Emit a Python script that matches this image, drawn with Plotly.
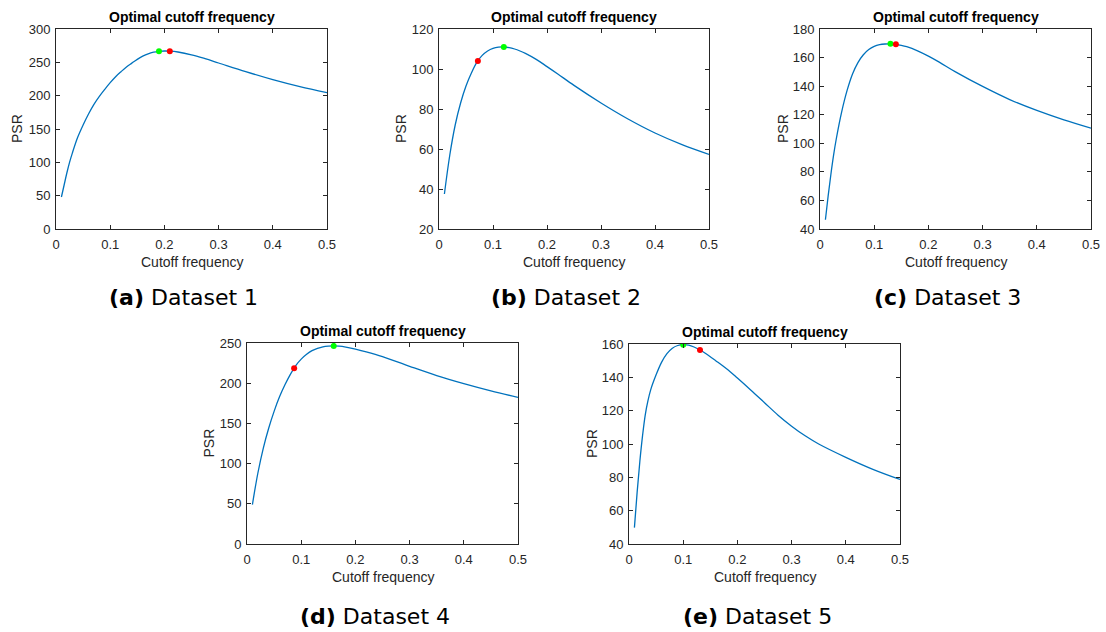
import plotly.graph_objects as go

# ---- PSR versus cutoff frequency, one curve per dataset ----
freq_1 = [0.01, 0.015, 0.02, 0.025, 0.03, 0.04, 0.05, 0.06, 0.07, 0.08, 0.09, 0.1, 0.11, 0.12,
          0.13, 0.14, 0.15, 0.16, 0.17, 0.18, 0.19, 0.2, 0.21, 0.225, 0.25, 0.275, 0.3, 0.35,
          0.4, 0.45, 0.5]
psr_1 = [48, 66, 84, 100, 113.5, 137.5, 156, 172.5, 187, 199, 209.5, 219.5, 228.5, 236,
         243, 248.8, 254.5, 259.2, 262.8, 265.2, 266.5, 267, 266.8, 265.5, 261.3, 255.5, 249,
         236, 224, 213.5, 204.5]

freq_2 = [0.01, 0.02, 0.03, 0.04, 0.05, 0.06, 0.07, 0.08, 0.09, 0.1, 0.11, 0.12, 0.13, 0.14,
          0.15, 0.16, 0.18, 0.2, 0.22, 0.25, 0.3, 0.35, 0.4, 0.45, 0.5]
psr_2 = [37.5, 57, 72, 83, 91.5, 98, 103.3, 106.8, 109, 110.3, 110.9, 111, 110.7, 110,
         109, 107.8, 104.8, 101.2, 97.5, 91.8, 83, 75, 68, 62.2, 57.3]

freq_3 = [0.01, 0.015, 0.02, 0.025, 0.03, 0.04, 0.05, 0.06, 0.07, 0.08, 0.09, 0.1, 0.11,
          0.12, 0.13, 0.14, 0.15, 0.16, 0.18, 0.2, 0.22, 0.25, 0.3, 0.35, 0.4, 0.45, 0.5]
psr_3 = [46.5, 63, 78, 91.5, 103, 122, 137, 148.5, 156.5, 162, 165.6, 167.8, 169,
         169.5, 169.6, 169.3, 168.6, 167.6, 164.7, 161, 156.8, 150, 139.8, 130.6, 123,
         116.4, 110.6]

freq_4 = [0.01, 0.02, 0.03, 0.04, 0.05, 0.06, 0.07, 0.08, 0.09, 0.1, 0.11, 0.12, 0.13, 0.14,
          0.15, 0.16, 0.17, 0.18, 0.2, 0.22, 0.25, 0.3, 0.35, 0.4, 0.45, 0.5]
psr_4 = [49, 88, 119, 144, 165, 183, 198, 211, 222, 230, 236, 240.5, 243.3, 245.2,
         246.1, 246.4, 246, 245.2, 242.5, 239, 233, 221, 209.5, 199.5, 190.5, 182.4]

freq_5 = [0.01, 0.015, 0.02, 0.025, 0.03, 0.035, 0.04, 0.05, 0.06, 0.07, 0.08, 0.09, 0.1,
          0.11, 0.12, 0.131, 0.14, 0.16, 0.18, 0.2, 0.225, 0.25, 0.275, 0.3, 0.325, 0.35,
          0.4, 0.45, 0.5]
psr_5 = [49.8, 71, 89.5, 105, 117.5, 126, 132.5, 141.5, 149, 154.2, 157.5, 159.1, 159.6,
         159.3, 158.2, 156.4, 154.6, 150, 145.2, 139.6, 132.3, 124.8, 117.3, 110.7, 104.9,
         100.0, 92, 84.8, 78.7]

# Highlighted cutoffs: green = optimum, red = selected
green_f = [0.19, 0.12, 0.13, 0.16, 0.1]
green_psr = [266.5, 111.0, 169.6, 246.4, 159.6]
red_f = [0.21, 0.072, 0.14, 0.087, 0.131]
red_psr = [266.8, 104.0, 169.3, 218.7, 156.4]

y_ranges = [[0, 300], [20, 120], [40, 180], [0, 250], [40, 160]]
y_dticks = [50, 20, 20, 50, 20]
captions = ["<b>(a)</b> Dataset 1", "<b>(b)</b> Dataset 2", "<b>(c)</b> Dataset 3",
            "<b>(d)</b> Dataset 4", "<b>(e)</b> Dataset 5"]

freqs = [freq_1, freq_2, freq_3, freq_4, freq_5]
psrs = [psr_1, psr_2, psr_3, psr_4, psr_5]

W, H = 1106, 632
# panel boxes in pixels: left, right, top, bottom
boxes = [(56, 327, 29, 229), (439, 709, 29, 229), (820, 1091, 29, 229),
         (247, 518, 343, 544), (629, 900, 344, 544)]
psr_label_x = [17, 401, 783, 208, 592]
caption_pos = [(183, 297), (566, 297), (947, 297), (375, 616), (757, 616)]

AX_COL = "#262626"
FONT = "Liberation Sans, Arial, sans-serif"

fig = go.Figure()
layout = dict(width=W, height=H, margin=dict(l=0, r=0, t=0, b=0, autoexpand=False),
              paper_bgcolor="white", plot_bgcolor="white", showlegend=False)
annotations = []

for i in range(5):
    n = "" if i == 0 else str(i + 1)
    l, r, t, b = boxes[i]
    common = dict(showline=True, mirror="ticks", linecolor=AX_COL, linewidth=1,
                  ticks="inside", ticklen=4, tickcolor=AX_COL, tickwidth=1,
                  showgrid=False, zeroline=False, automargin=False,
                  tickfont=dict(family=FONT, size=13, color=AX_COL))
    xa = dict(domain=[l / W, r / W], range=[0, 0.5], dtick=0.1, tick0=0,
              anchor="y" + n, ticklabelstandoff=3, **common)
    ya = dict(domain=[1 - b / H, 1 - t / H], range=y_ranges[i], dtick=y_dticks[i],
              tick0=0, anchor="x" + n, ticklabelstandoff=2, **common)
    layout["xaxis" + n] = xa
    layout["yaxis" + n] = ya

    fig.add_trace(go.Scatter(x=freqs[i], y=psrs[i], mode="lines",
                             line=dict(color="#0072BD", width=1.3, shape="spline", smoothing=1.0),
                             xaxis="x" + n, yaxis="y" + n, hoverinfo="skip"))
    fig.add_trace(go.Scatter(x=[green_f[i]], y=[green_psr[i]], mode="markers",
                             marker=dict(color="#00FF00", size=6),
                             xaxis="x" + n, yaxis="y" + n))
    fig.add_trace(go.Scatter(x=[red_f[i]], y=[red_psr[i]], mode="markers",
                             marker=dict(color="#FF0000", size=6),
                             xaxis="x" + n, yaxis="y" + n))

    cx = (l + r) / 2 / W
    annotations.append(dict(text="<b>Optimal cutoff frequency</b>", x=cx, y=1 - (t - 12) / H,
                            xref="paper", yref="paper", showarrow=False,
                            xanchor="center", yanchor="middle",
                            font=dict(family=FONT, size=14, color="black")))
    annotations.append(dict(text="Cutoff frequency", x=cx, y=1 - (b + 33) / H,
                            xref="paper", yref="paper", showarrow=False,
                            xanchor="center", yanchor="middle",
                            font=dict(family=FONT, size=14, color=AX_COL)))
    annotations.append(dict(text="PSR", x=psr_label_x[i] / W, y=1 - (t + b) / 2 / H,
                            xref="paper", yref="paper", showarrow=False, textangle=-90,
                            xanchor="center", yanchor="middle",
                            font=dict(family=FONT, size=14, color=AX_COL)))
    px, py = caption_pos[i]
    annotations.append(dict(text=captions[i], x=px / W, y=1 - py / H,
                            xref="paper", yref="paper", showarrow=False,
                            xanchor="center", yanchor="middle",
                            font=dict(family="DejaVu Sans, sans-serif", size=22, color="black")))

layout["annotations"] = annotations
fig.update_layout(**layout)
fig.write_html("out.html")
